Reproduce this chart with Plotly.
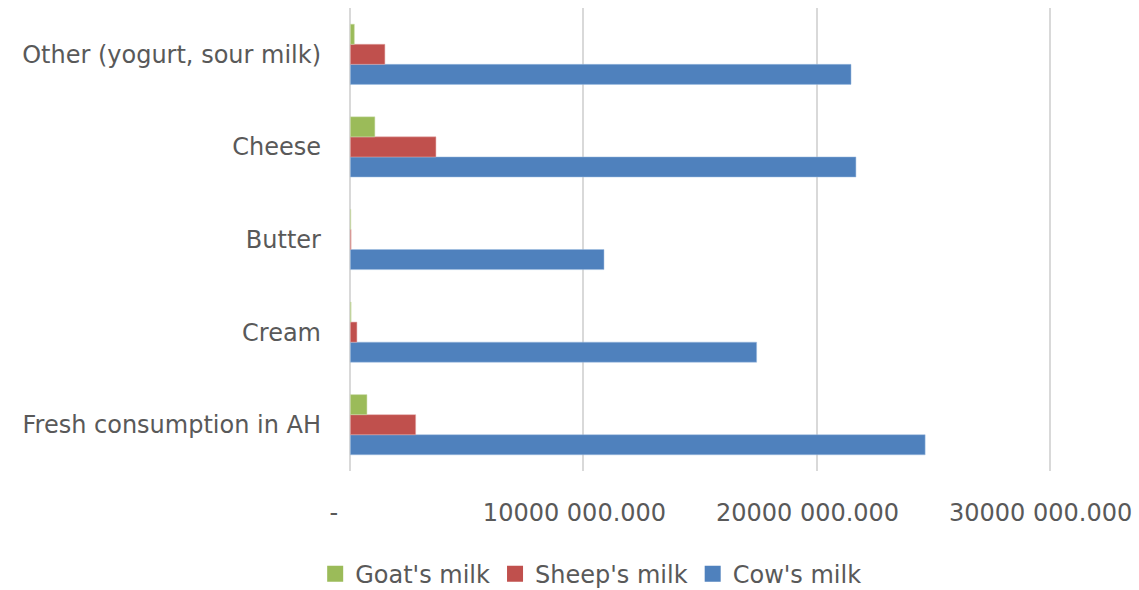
import plotly.graph_objects as go

categories = ["Fresh consumption in AH", "Cream", "Butter", "Cheese", "Other (yogurt, sour milk)"]
cow = [24660000, 17430000, 10880000, 21690000, 21480000]
sheep = [2800000, 280000, 30000, 3670000, 1480000]
goat = [710000, 30000, 20000, 1050000, 170000]

series_names = ["Cow's milk", "Sheep's milk", "Goat's milk"]
series_colors = ["#4F81BD", "#C0504D", "#9BBB59"]
series_edges = ["#9FBCE0", "#E2A8A6", "#CDDDAC"]
series_values = [cow, sheep, goat]

tick_vals = [0, 10000000, 20000000, 30000000]
tick_text = ["-\u00a0\u00a0", "10000 000.000", "20000 000.000", "30000 000.000"]

font_family = "DejaVu Sans"
text_color = "#595959"

fig = go.Figure()
for name, color, edge, vals in zip(series_names, series_colors, series_edges, series_values):
    fig.add_trace(go.Bar(y=categories, x=vals, name=name, orientation="h", showlegend=False,
                         marker=dict(color=color, line=dict(color=edge, width=0.5))))
# legend entries with larger square swatches
for name, color in zip(series_names, series_colors):
    fig.add_trace(go.Scatter(x=[None], y=[None], mode="markers", name=name,
                             marker=dict(symbol="square", size=16, color=color)))

fig.update_layout(
    width=1139, height=590,
    margin=dict(l=349, r=88, t=8, b=119, autoexpand=False),
    paper_bgcolor="white", plot_bgcolor="white",
    barmode="group", bargap=0.35, bargroupgap=0,
    font=dict(family=font_family, size=24, color=text_color),
    showlegend=True,
    legend=dict(orientation="h", traceorder="reversed",
                x=0.345, xanchor="center", yref="container", y=0.027, yanchor="middle",
                font=dict(size=24, color=text_color), itemwidth=30),
    xaxis=dict(range=[-60000, 30060000], tickvals=tick_vals, ticktext=tick_text,
               showgrid=True, gridcolor="#D9D9D9", gridwidth=2,
               zeroline=False, showline=False, automargin=False,
               ticklabelstandoff=25, ticklabelshift=-9,
               tickfont=dict(size=24, color=text_color)),
    yaxis=dict(categoryorder="array", categoryarray=categories,
               showgrid=False, zeroline=False, showline=False, automargin=False,
               ticklabelstandoff=27,
               tickfont=dict(size=24, color=text_color)),
)

fig.write_html("out.html")
